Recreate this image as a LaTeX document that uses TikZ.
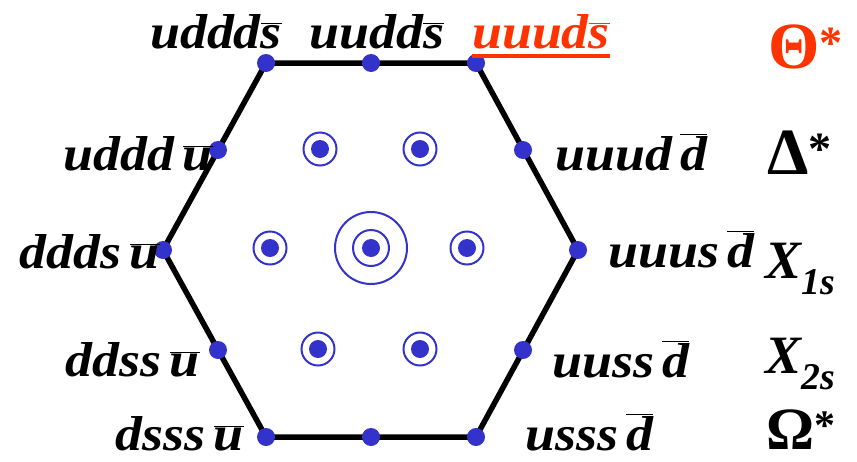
\documentclass[tikz,border=0pt]{standalone}
\usepackage{fontspec}
\setmainfont{Liberation Serif}
\newfontfamily\qfont[FakeStretch=1.1]{Liberation Serif}
\usetikzlibrary{positioning}
\definecolor{qblue}{HTML}{3333CC}
\definecolor{qred}{HTML}{FF3300}
\newcommand\qbar[1]{$\overline{\hbox{#1}}$}

\begin{document}
\begin{tikzpicture}[x=1pt,y=-1pt,
    qk/.style={font=\qfont\fontsize{49}{51}\selectfont\bfseries\itshape,inner sep=0pt},
    nm/.style={font=\fontsize{66}{68}\selectfont\bfseries,inner sep=0pt},
    xs/.style={font=\fontsize{54}{56}\selectfont\bfseries\itshape,inner sep=0pt},
    pt/.style={circle,fill=qblue,minimum size=18pt,inner sep=0pt},
    ring/.style={circle,draw=qblue,line width=2pt,minimum size=33pt,inner sep=0pt}]
  \useasboundingbox (0,0) rectangle (857,461);
  % corners and edge points of the decuplet
  \coordinate (c1) at (266,63);
  \coordinate (c2) at (371,63);
  \coordinate (c3) at (476,63);
  \coordinate (c4) at (523,150);
  \coordinate (c5) at (578,250);
  \coordinate (c6) at (523,350);
  \coordinate (c7) at (476,437);
  \coordinate (c8) at (371,437);
  \coordinate (c9) at (266,437);
  \coordinate (c10) at (218,350);
  \coordinate (c11) at (163,250);
  \coordinate (c12) at (218,150);
  \draw[line width=5.5pt] (c1) -- (c3) -- (c5) -- (c7) -- (c9) -- (c11) -- cycle;
  \foreach \i in {1,...,12} \node[pt] (p\i) at (c\i) {};
  % inner states
  \foreach \n/\x/\y in {a/320/149,b/420/149,c/270/248,d/467/248,e/318/349,f/420/349} {
    \node[ring] (r\n) at (\x,\y) {};
    \node[pt] (q\n) at (r\n) {};
  }
  \node[circle,draw=qblue,line width=2pt,minimum size=72pt,inner sep=0pt] (big) at (371,248) {};
  \node[ring,minimum size=36pt] (mid) at (big) {};
  \node[pt] (q0) at (big) {};
  % quark contents
  \node[qk,anchor=base] (t1) at (216,48) {uddd\qbar{s}};
  \node[qk,anchor=base] (t2) at (377,48) {uudd\qbar{s}};
  \node[qk,anchor=base,text=qred] (t3) at (541,48) {uuud\qbar{s}};
  \draw[qred,line width=4pt] ([yshift=-8pt]t3.base west) -- ([yshift=-8pt]t3.base east);
  \node[qk,anchor=base east] (l1) at (213,170) {uddd\,\qbar{u}};
  \node[qk,anchor=base east] (l2) at (160,268) {ddds\,\qbar{u}};
  \node[qk,anchor=base east] (l3) at (200,376) {ddss\,\qbar{u}};
  \node[qk,anchor=base east] (l4) at (244,450) {dsss\,\qbar{u}};
  \node[qk,anchor=base west] (m1) at (555,170) {uuud\,\qbar{d}};
  \node[qk,anchor=base west] (m2) at (608,267) {uuus\,\qbar{d}};
  \node[qk,anchor=base west] (m3) at (552,377) {uuss\,\qbar{d}};
  \node[qk,anchor=base west] (m4) at (525,450) {usss\,\qbar{d}};
  % multiplets
  \node[nm,anchor=base west,text=qred] (n1) at (768,68) {Θ\textsuperscript{*}};
  \node[nm,anchor=base west] (n2) at (767,174) {Δ\textsuperscript{*}};
  \node[xs,anchor=base west] (n3) at (765,278) {X\textsubscript{1s}};
  \node[xs,anchor=base west] (n4) at (765,373) {X\textsubscript{2s}};
  \node[nm,anchor=base west,font=\fontsize{60}{62}\selectfont\bfseries] (n5) at (766,449) {Ω\textsuperscript{*}};
\end{tikzpicture}
\end{document}
